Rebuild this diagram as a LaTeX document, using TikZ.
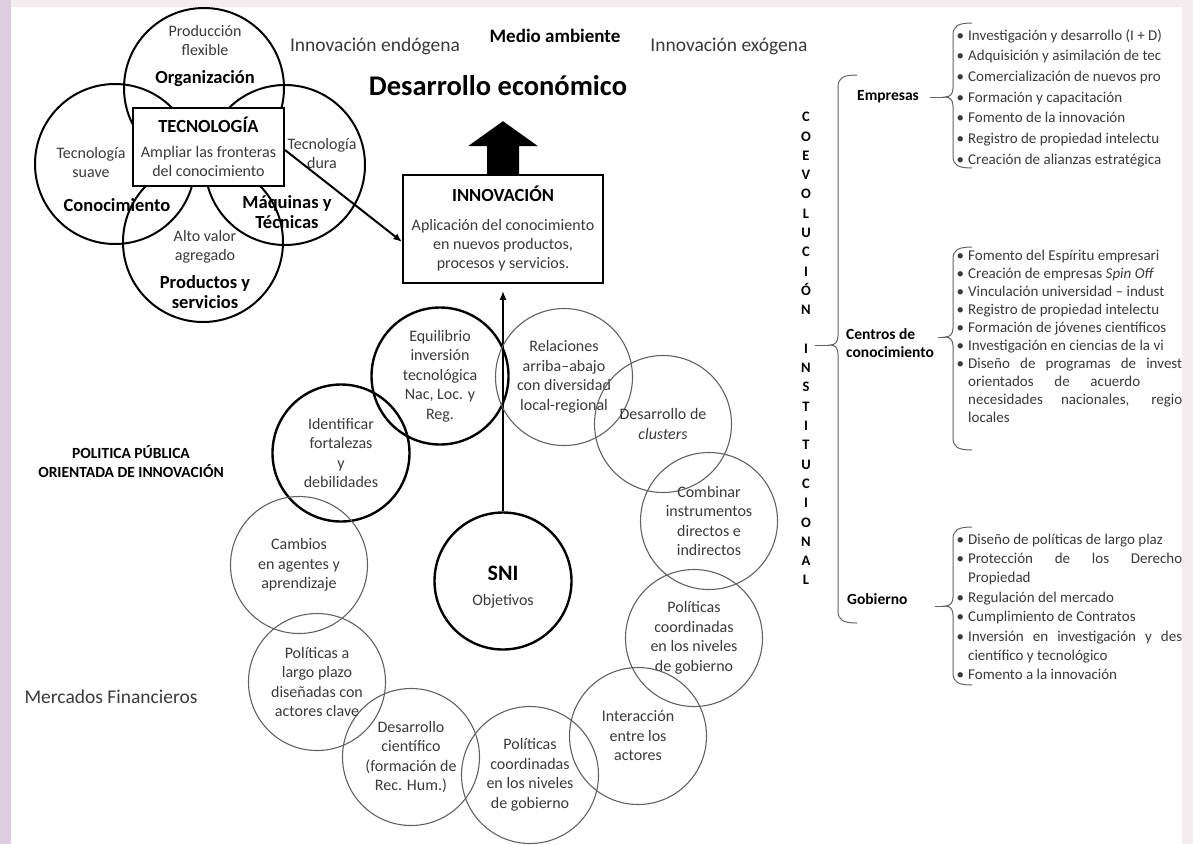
\documentclass[tikz,border=0pt]{standalone}
\usepackage{fontspec}
\setmainfont{Carlito}
\usetikzlibrary{arrows.meta}

\definecolor{inkgrey}{HTML}{3A3A3A}
\definecolor{ringgrey}{HTML}{626262}
\definecolor{lilac}{HTML}{DCCEDE}
\definecolor{blush}{HTML}{F5ECF0}

\tikzset{
  petal/.style={circle, draw, line width=2pt, minimum size=160pt, inner sep=0pt},
  ring/.style={circle, draw, line width=2.4pt, minimum size=137pt, inner sep=0pt,
    align=center, text=inkgrey, font=\fontsize{16}{19.5}\selectfont},
  softring/.style={ring, draw=ringgrey, line width=1.1pt},
  soft/.style={align=center, inner sep=0pt, text=inkgrey, font=\fontsize{16}{19}\selectfont},
  heavy/.style={align=center, inner sep=0pt, font=\fontsize{18.5}{20.5}\selectfont\bfseries},
  panel/.style={draw, fill=white, align=center, inner sep=0pt, text=inkgrey,
    font=\fontsize{16}{19}\selectfont},
  bigtext/.style={inner sep=0pt, text=inkgrey, font=\fontsize{19.5}{23}\selectfont},
  group/.style={anchor=west, align=left, inner sep=0pt, font=\fontsize{15.5}{18.5}\selectfont\bfseries},
  entry/.style={anchor=base west, yshift=-5pt, inner sep=0pt, text=inkgrey, font=\fontsize{15}{18}\selectfont},
  bracket/.style={line width=1pt, draw=ringgrey},
  pointer/.style={line width=2pt, -{Latex[length=9pt,width=7pt]}}
}

% spine x, top y, middle y, bottom y, end of the dash
\newcommand\listbrace[5]{%
  \draw[bracket] (#1+19,#2) .. controls (#1+5,#2) and (#1,#2+3) .. (#1,#2+12)
    -- (#1,#3-9) .. controls (#1,#3-3) and (#1-3,#3) .. (#1-8,#3)
    .. controls (#1-3,#3) and (#1,#3+3) .. (#1,#3+9)
    -- (#1,#4-12) .. controls (#1,#4-3) and (#1+5,#4) .. (#1+19,#4);
  \draw[bracket] (#1-8,#3) -- (#5,#3);}
\newcommand\bul{\llap{\textbullet\hspace{4pt}}}

\begin{document}
\begin{tikzpicture}[x=1pt, y=-1pt]
  \useasboundingbox (0,0) rectangle (1193,844);
  \fill[white] (0,0) rectangle (1193,844);
  \fill[lilac] (0,0) rectangle (11,844);
  \fill[blush] (11,0) rectangle (1193,7);

  % Technology petals
  \node[petal] (org) at (204,88) {};
  \node[petal] (con) at (115,164) {};
  \node[petal] (maq) at (285,165) {};
  \node[petal] (prod) at (203,242) {};
  \node[panel, line width=2pt, minimum width=151pt, minimum height=78pt] (tec) at (208.5,147)
    {{\fontsize{18.5}{22}\selectfont\bfseries\color{black}TECNOLOGÍA}\\[6pt]Ampliar las fronteras\\del conocimiento};

  \node[soft] (flex) at (205,40) {Producción\\flexible};
  \node[heavy] (orgtxt) at (205,79) {Organización};
  \node[soft] (suave) at (91,162) {Tecnología\\suave};
  \node[heavy] (contxt) at (117,205) {Conocimiento};
  \node[soft] (dura) at (322,153) {Tecnología\\dura};
  \node[heavy] (maqtxt) at (287,212) {Máquinas y\\Técnicas};
  \node[soft] (valor) at (205,247) {Alto valor\\agregado};
  \node[heavy] (prodtxt) at (205,292) {Productos y\\servicios};

  % Headings
  \node[bigtext] (endo) at (375,46) {Innovación endógena};
  \node[heavy, font=\fontsize{19}{22}\selectfont\bfseries] (medio) at (555,36) {Medio ambiente};
  \node[bigtext] (exo) at (729,46) {Innovación exógena};
  \node[heavy, font=\fontsize{28.5}{32}\selectfont\bfseries] (desa) at (498,86) {Desarrollo económico};

  % Innovation box
  \node[panel, line width=1.6pt, minimum width=200pt, minimum height=108pt] (innov) at (503,229)
    {{\fontsize{18.5}{22}\selectfont\bfseries\color{black}INNOVACIÓN}\\[10pt]Aplicación del conocimiento\\en nuevos productos,\\procesos y servicios.};
  \fill[shift={(innov.north)}] (-16,0) -- (-16,-28) -- (-35,-28) -- (0,-53)
    -- (35,-28) -- (16,-28) -- (16,0) -- cycle;
  \draw[pointer] ([yshift=-3pt]tec.east) -- ([yshift=-13pt]innov.west);

  % SNI objectives
  \node[ring] (sni) at (503,581) {{\fontsize{22}{24}\selectfont\bfseries\color{black}\rule{0pt}{27pt}SNI}\\[5pt]Objetivos};
  \draw[pointer, shorten >=7pt] (sni) -- (innov);

  \node[ring] (equi) at (440,376) {Equilibrio\\inversión\\tecnológica\\Nac, Loc. y\\Reg.};
  \node[ring] (ident) at (341,453) {Identificar\\fortalezas\\y\\debilidades};
  \node[softring] (rel) at (564,377) {Relaciones\\arriba–abajo\\con diversidad\\local-regional};
  \node[softring] (clus) at (663,424) {Desarrollo de\\\textit{clusters}};
  \node[softring] (comb) at (709,521) {Combinar\\instrumentos\\directos e\\indirectos};
  \node[softring] (coordR) at (694,638) {Políticas\\coordinadas\\en los niveles\\de gobierno};
  \node[softring] (inter) at (638,736) {Interacción\\entre los\\actores};
  \node[softring] (coordB) at (530,775) {Políticas\\coordinadas\\en los niveles\\de gobierno};
  \node[softring] (cient) at (411,757) {Desarrollo\\científico\\(formación de\\Rec. Hum.)};
  \node[softring] (plazo) at (317,682) {Políticas a\\largo plazo\\diseñadas con\\actores clave};
  \node[softring] (camb) at (299,565) {Cambios\\en agentes y\\aprendizaje};

  % Left labels
  \node[heavy, font=\fontsize{15.5}{19}\selectfont\bfseries] (politica) at (131,462)
    {POLITICA PÚBLICA\\ORIENTADA DE INNOVACIÓN};
  \node[bigtext] (mercados) at (111,697) {Mercados Financieros};

  % Institutional coevolution
  \node[align=center, inner sep=0pt, font=\fontsize{14.5}{19.3}\selectfont\bfseries] (coevo) at (806,348.6)
    {C\\O\\E\\V\\O\\L\\U\\C\\I\\Ó\\N\\ \\I\\N\\S\\T\\I\\T\\U\\C\\I\\O\\N\\A\\L};
  \listbrace{838}{75}{345}{623}{815}

  \node[group] (emp) at (857,97) {Empresas};
  \listbrace{953}{23}{97}{168}{930}
  \node[entry] (e1) at (968,35) {\bul Investigación y desarrollo (I + D)};
  \node[entry] (e2) at (968,55.7) {\bul Adquisición y asimilación de tec};
  \node[entry] (e3) at (968,76.3) {\bul Comercialización de nuevos pro};
  \node[entry] (e4) at (968,97) {\bul Formación y capacitación};
  \node[entry] (e5) at (968,117.7) {\bul Fomento de la innovación};
  \node[entry] (e6) at (968,138.3) {\bul Registro de propiedad intelectu};
  \node[entry] (e7) at (968,159) {\bul Creación de alianzas estratégica};

  \node[group] (cen) at (846,343) {Centros de\\conocimiento};
  \listbrace{953}{247}{337}{450}{938}
  \node[entry] (c1) at (968,255) {\bul Fomento del Espíritu empresari};
  \node[entry] (c2) at (968,273) {\bul Creación de empresas \textit{Spin Off}};
  \node[entry] (c3) at (968,291) {\bul Vinculación universidad – indust};
  \node[entry] (c4) at (968,309) {\bul Registro de propiedad intelectu};
  \node[entry] (c5) at (968,327) {\bul Formación de jóvenes científicos};
  \node[entry] (c6) at (968,345) {\bul Investigación en ciencias de la vi};
  \node[entry] (c7) at (968,363) {\bul\makebox[214pt][s]{Diseño de programas de invest}};
  \node[entry] (c8) at (968,381) {\makebox[172pt][s]{orientados de acuerdo}};
  \node[entry] (c9) at (968,399) {\makebox[214pt][s]{necesidades nacionales, regio}};
  \node[entry] (c10) at (968,417) {locales};

  \node[group] (gob) at (847,599) {Gobierno};
  \listbrace{953}{527}{606}{685}{935}
  \node[entry] (g1) at (968,539) {\bul Diseño de políticas de largo plaz};
  \node[entry] (g2) at (968,558) {\bul\makebox[214pt][s]{Protección de los Derecho}};
  \node[entry] (g3) at (968,577) {Propiedad};
  \node[entry] (g4) at (968,597) {\bul Regulación del mercado};
  \node[entry] (g5) at (968,616) {\bul Cumplimiento de Contratos};
  \node[entry] (g6) at (968,636) {\bul\makebox[214pt][s]{Inversión en investigación y des}};
  \node[entry] (g7) at (968,655) {científico y tecnológico};
  \node[entry] (g8) at (968,674) {\bul Fomento a la innovación};

  \fill[blush] (1182,0) rectangle (1193,844);
\end{tikzpicture}
\end{document}
